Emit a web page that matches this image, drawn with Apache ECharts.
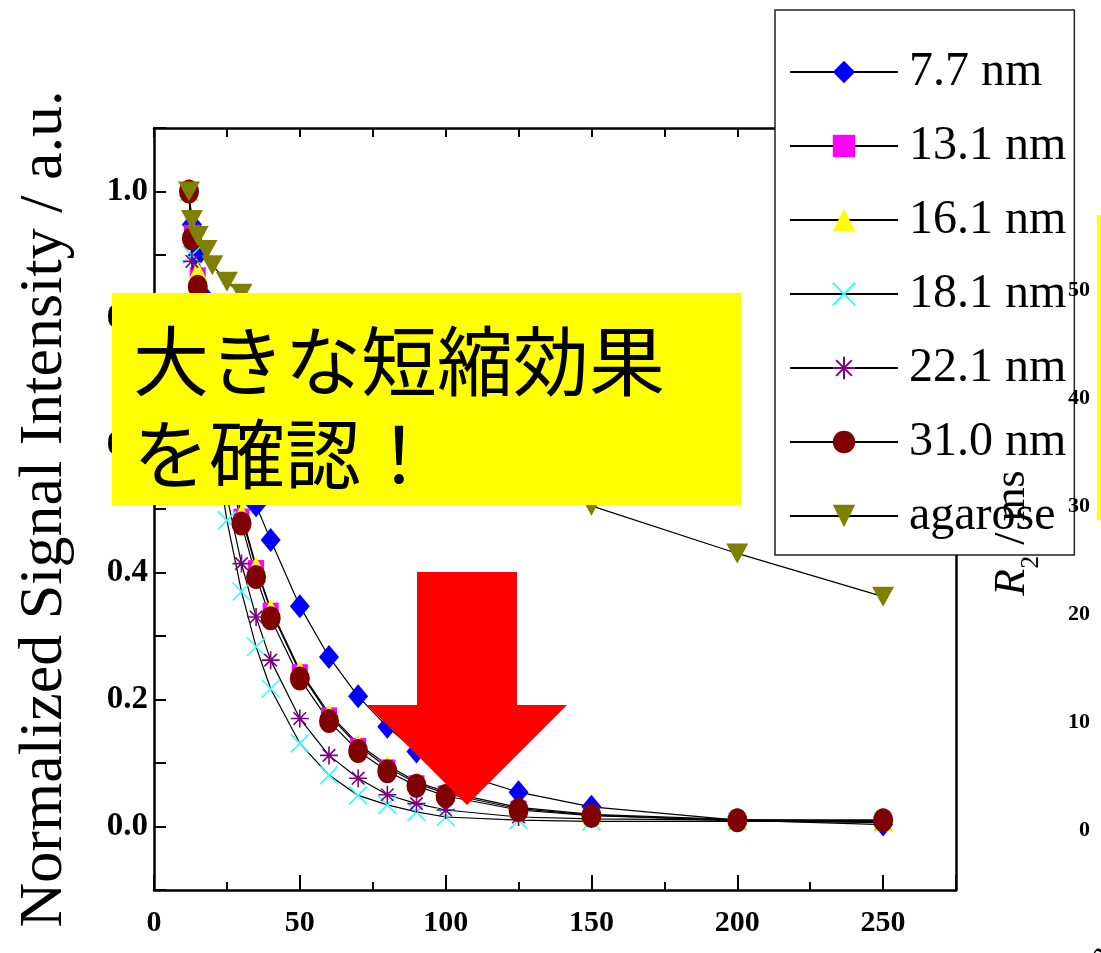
<!DOCTYPE html>
<html><head><meta charset="utf-8">
<script src="https://cdn.jsdelivr.net/npm/echarts@6.0.0/dist/echarts.min.js"></script>
<style>html,body{margin:0;padding:0;background:#fff}#c{width:1101px;height:953px}</style>
</head><body><div id="c"></div>
<script>
// echo time (ms)
const echoTimes = [12, 13, 15, 18, 20, 25, 30, 35, 40, 50, 60, 70, 80, 90, 100, 125, 150, 200, 250];
const s7_7  = [1.0, 0.948, 0.90, 0.83, 0.79, 0.68, 0.59, 0.506, 0.451, 0.347, 0.267, 0.205, 0.157, 0.118, 0.09, 0.054, 0.031, 0.010, 0.003];
const s13_1 = [1.0, 0.935, 0.868, 0.775, 0.715, 0.59, 0.488, 0.407, 0.340, 0.243, 0.175, 0.127, 0.093, 0.068, 0.052, 0.028, 0.018, 0.009, 0.006];
const s16_1 = [1.0, 0.94, 0.874, 0.78, 0.72, 0.595, 0.493, 0.41, 0.343, 0.246, 0.178, 0.130, 0.097, 0.070, 0.055, 0.030, 0.019, 0.011, 0.008];
const s18_1 = [1.0, 0.90, 0.82, 0.70, 0.628, 0.482, 0.37, 0.283, 0.217, 0.131, 0.081, 0.049, 0.034, 0.023, 0.015, 0.010, 0.008, 0.008, 0.008];
const s22_1 = [1.0, 0.89, 0.81, 0.71, 0.65, 0.52, 0.414, 0.33, 0.262, 0.170, 0.112, 0.076, 0.050, 0.036, 0.026, 0.015, 0.012, 0.010, 0.010];
const s31_0 = [1.0, 0.926, 0.85, 0.757, 0.70, 0.578, 0.477, 0.393, 0.328, 0.233, 0.166, 0.119, 0.087, 0.064, 0.048, 0.026, 0.017, 0.010, 0.010];
const sAgar = [1.0, 0.955, 0.93, 0.908, 0.884, 0.858, 0.839, 0.82, 0.80, 0.77, 0.74, 0.71, 0.685, 0.66, 0.635, 0.57, 0.505, 0.43, 0.362];
const seriesNames = ['7.7 nm', '13.1 nm', '16.1 nm', '18.1 nm', '22.1 nm', '31.0 nm', 'agarose'];
const xTickLabels = [0, 50, 100, 150, 200, 250];
const yTickLabels = [0.0, 0.2, 0.4, 0.6, 0.8, 1.0];
const r2TickLabels = [0, 10, 20, 30, 40, 50];
const yAxisTitle = 'Normalized Signal Intensity / a.u.';
const noteLine1 = '大きな短縮効果';
const noteLine2 = 'を確認！';

const chart = echarts.init(document.getElementById('c'), null, {renderer: 'canvas'});
const SERIF = 'Liberation Serif';

function mk(name, vals, symbol, size, itemStyle, extra) {
  return Object.assign({
    name: name, type: 'line',
    data: echoTimes.map((t, i) => [t, vals[i]]),
    symbol: symbol, symbolSize: size, showSymbol: true,
    lineStyle: {color: '#000', width: 1.2},
    itemStyle: itemStyle,
    emphasis: {disabled: true},
    animation: false, z: 3
  }, extra || {});
}
const X_PATH = 'path://M0,0L10,10M10,0L0,10';
const AST_PATH = 'path://M5,0L5,10M0,5L10,5M1.5,1.5L8.5,8.5M8.5,1.5L1.5,8.5';

const series = [
  mk(seriesNames[0], s7_7, 'diamond', [20, 24], {color: '#0000FF'}),
  mk(seriesNames[1], s13_1, 'rect', 16, {color: '#FF00FF'}),
  mk(seriesNames[2], s16_1, 'triangle', 20, {color: '#FFFF00'}),
  mk(seriesNames[3], s18_1, X_PATH, 18, {color: 'rgba(0,0,0,0)', borderColor: '#33FFFF', borderWidth: 1.6}),
  mk(seriesNames[4], s22_1, AST_PATH, 18, {color: 'rgba(0,0,0,0)', borderColor: '#800080', borderWidth: 1.6}),
  mk(seriesNames[5], s31_0, 'circle', [20, 24], {color: '#800000'}),
  mk(seriesNames[6], sAgar, 'triangle', [22, 20], {color: '#808000'}, {symbolRotate: 180})
];

const axisLineStyle = {color: '#000', width: 2.5};
const option = {
  animation: false,
  backgroundColor: '#fff',
  grid: [
    {left: 154, top: 128, width: 802, height: 762},
    {left: 1096, top: 236, width: 200, height: 594}
  ],
  xAxis: [
    {type: 'value', gridIndex: 0, position: 'bottom', min: 0, max: 275, interval: 50,
     axisLine: {show: true, onZero: false, lineStyle: axisLineStyle},
     axisTick: {show: true, inside: true, length: 15, lineStyle: {color: '#000', width: 2}},
     axisLabel: {show: true, margin: 18, color: '#000', fontFamily: SERIF, fontWeight: 'bold', fontSize: 30,
       formatter: v => xTickLabels.indexOf(v) >= 0 ? String(v) : ''},
     splitLine: {show: false}},
    {type: 'value', gridIndex: 0, position: 'bottom', min: 0, max: 275, interval: 25,
     axisLine: {show: false, onZero: false},
     axisTick: {show: true, inside: true, length: 8, lineStyle: {color: '#000', width: 2}},
     axisLabel: {show: false}, splitLine: {show: false}},
    {type: 'value', gridIndex: 0, position: 'top', min: 0, max: 275, interval: 25,
     axisLine: {show: true, onZero: false, lineStyle: axisLineStyle},
     axisTick: {show: true, inside: true, length: 9, lineStyle: {color: '#000', width: 2}},
     axisLabel: {show: false}, splitLine: {show: false}},
    {type: 'value', gridIndex: 1, show: false, min: 0, max: 10}
  ],
  yAxis: [
    {type: 'value', gridIndex: 0, position: 'left', min: -0.1, max: 1.1, interval: 0.1,
     axisLine: {show: true, onZero: false, lineStyle: axisLineStyle},
     axisTick: {show: true, inside: true, length: 12, lineStyle: {color: '#000', width: 2}},
     axisLabel: {show: true, margin: 6, color: '#000', fontFamily: SERIF, fontWeight: 'bold', fontSize: 33,
       formatter: v => {
         const hit = yTickLabels.find(t => Math.abs(t - v) < 1e-6);
         return hit === undefined ? '' : hit.toFixed(1);
       }},
     splitLine: {show: false},
     name: yAxisTitle, nameLocation: 'middle', nameRotate: 90, nameGap: 78,
     nameTextStyle: {fontFamily: SERIF, fontSize: 62, color: '#000'}},
    {type: 'value', gridIndex: 0, position: 'right', min: -0.1, max: 1.1, interval: 0.1,
     axisLine: {show: true, onZero: false, lineStyle: axisLineStyle},
     axisTick: {show: false}, axisLabel: {show: false}, splitLine: {show: false}},
    {type: 'value', gridIndex: 1, position: 'left', min: 0, max: 55, interval: 10, z: 10,
     axisLine: {show: false, onZero: false}, axisTick: {show: false}, splitLine: {show: false},
     axisLabel: {show: true, margin: 6, color: '#000', fontFamily: SERIF, fontWeight: 'bold', fontSize: 22,
       formatter: v => r2TickLabels.indexOf(v) >= 0 ? String(v) : ''},
     name: '{it|R}{sub|2}{n| / ms}', nameLocation: 'middle', nameRotate: 90, nameGap: 62,
     nameTextStyle: {color: '#000', fontFamily: SERIF, fontSize: 44,
       rich: {it: {fontFamily: SERIF, fontStyle: 'italic', fontSize: 44, color: '#000'},
              sub: {fontFamily: SERIF, fontSize: 26, color: '#000', verticalAlign: 'bottom', padding: [0, 0, -10, 0]},
              n: {fontFamily: SERIF, fontSize: 44, color: '#000'}}}}
  ],
  legend: {
    orient: 'vertical', left: 775, top: 10,
    padding: [38, 8, 15, 14], itemGap: 26, itemWidth: 108, itemHeight: 28,
    backgroundColor: '#fff', borderColor: '#222', borderWidth: 1.5,
    textStyle: {fontFamily: SERIF, fontSize: 48, color: '#000', padding: [0, 0, 0, 6]},
    data: seriesNames, selectedMode: false, z: 6
  },
  series: series,
  graphic: [
    {type: 'rect', z: 100, shape: {x: 112, y: 293, width: 629, height: 212}, style: {fill: '#FFFF00'}},
    {type: 'text', z: 101, x: 133, y: 361, style: {text: noteLine1, fontSize: 76, fontFamily: 'Noto Sans CJK JP', fill: '#000', verticalAlign: 'middle', textVerticalAlign: 'middle'}},
    {type: 'text', z: 101, x: 133, y: 454, style: {text: noteLine2, fontSize: 76, fontFamily: 'Noto Sans CJK JP', fill: '#000', verticalAlign: 'middle', textVerticalAlign: 'middle'}},
    {type: 'polygon', z: 100, shape: {points: [[417, 572], [517, 572], [517, 705], [567, 705], [467, 805], [367, 705], [417, 705]]}, style: {fill: '#FF0000'}},
    {type: 'rect', z: 100, shape: {x: 1097, y: 215, width: 4, height: 305}, style: {fill: '#FFFF00'}},
    {type: 'text', z: 100, x: 1082, y: 953, rotation: Math.PI / 3, style: {text: 'ag', fontSize: 34, fontFamily: SERIF, fill: '#000'}}
  ]
};
chart.setOption(option);
</script>
</body></html>
